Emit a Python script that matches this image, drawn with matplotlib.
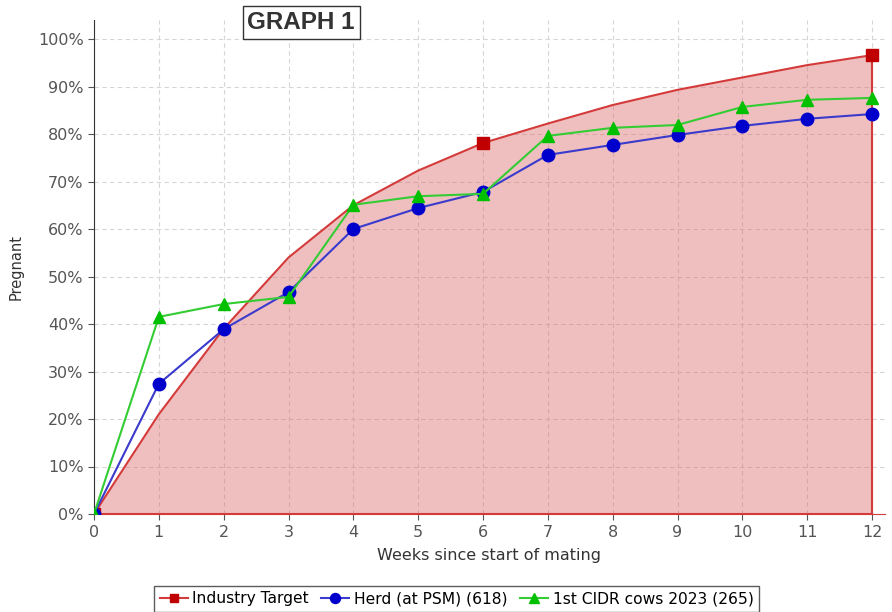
import numpy as np
import matplotlib.pyplot as plt
from matplotlib.ticker import PercentFormatter

plt.rcParams['font.family'] = ['DejaVu Sans']

# Data (percent pregnant by week)
weeks = list(range(13))
target = [0, 21.0, 39.0, 54.0, 65.0, 72.3, 78.1, 82.2, 86.1, 89.3, 91.9, 94.5, 96.6]
herd = [0, 27.4, 38.9, 46.7, 60.0, 64.4, 67.8, 75.6, 77.7, 79.8, 81.7, 83.2, 84.2]
cidr = [0, 41.5, 44.2, 45.7, 65.1, 66.9, 67.4, 79.6, 81.3, 81.9, 85.7, 87.2, 87.6]
target_marks = [0, 6, 12]

labels = ['Industry Target', 'Herd (at PSM) (618)', '1st CIDR cows 2023 (265)']

fig = plt.figure(figsize=(8.92, 6.12), dpi=100)
ax = fig.add_axes([94 / 892, 98 / 612, 791 / 892, 494 / 612])

# Target curve with shaded area
wk = np.array(weeks)
tg = np.array(target) / 100
ax.fill_between(wk, 0, tg, color='#d95f5f', alpha=0.4, lw=0, zorder=1)
ax.plot([12, 12], [0, tg[-1]], color='#d43a3a', lw=1.5, zorder=2)
ax.plot([0, 12], [0, 0], color='#d43a3a', lw=1.5, zorder=2)
ax.plot(wk, tg, color='#d43a3a', lw=1.5, marker='s', markersize=8,
        markerfacecolor='#c00000', markeredgecolor='#c00000',
        markevery=target_marks, label=labels[0], zorder=3)

ax.plot(wk, np.array(herd) / 100, color='#3a3acc', lw=1.5, marker='o',
        markersize=9, markerfacecolor='#0000cc', markeredgecolor='#0000cc',
        label=labels[1], zorder=4)
ax.plot(wk, np.array(cidr) / 100, color='#33cc33', lw=1.5, marker='^',
        markersize=9, markerfacecolor='#00c000', markeredgecolor='#00c000',
        label=labels[2], zorder=5)

ax.set_xlim(0, 12.2)
ax.set_ylim(0, 1.04)
ax.set_xticks(weeks)
ax.set_yticks(np.arange(0, 1.01, 0.1))
ax.yaxis.set_major_formatter(PercentFormatter(1.0, decimals=0))
ax.grid(True, color='#d6d6d6', ls=(0, (4, 3)), lw=0.8)
ax.set_axisbelow(True)

for s in ['top', 'right']:
    ax.spines[s].set_visible(False)
ax.spines['left'].set_color('#333333')
ax.spines['bottom'].set_color('#d43a3a')
ax.tick_params(colors='#555555', labelsize=11.5, length=4)
ax.tick_params(axis='x', pad=4)

ax.set_xlabel('Weeks since start of mating', fontsize=11.5, color='#333333', labelpad=6)
ax.set_ylabel('Pregnant', fontsize=10.5, color='#333333', labelpad=10)

ax.text(0.262, 0.995, 'GRAPH 1', transform=ax.transAxes, fontsize=17.5,
        family='Liberation Sans', fontweight='bold', color='#333333',
        ha='center', va='center',
        bbox=dict(boxstyle='square,pad=0.2', fc='white', ec='#333333', lw=1))

fig.legend(loc='lower center', bbox_to_anchor=(0.512, -0.012), ncol=3,
           fontsize=11.2, frameon=True, fancybox=False, edgecolor='#333333',
           handlelength=1.8, handletextpad=0.3, columnspacing=0.8,
           borderpad=0.35, markerscale=0.8)

fig.savefig('out.png', dpi=100)
